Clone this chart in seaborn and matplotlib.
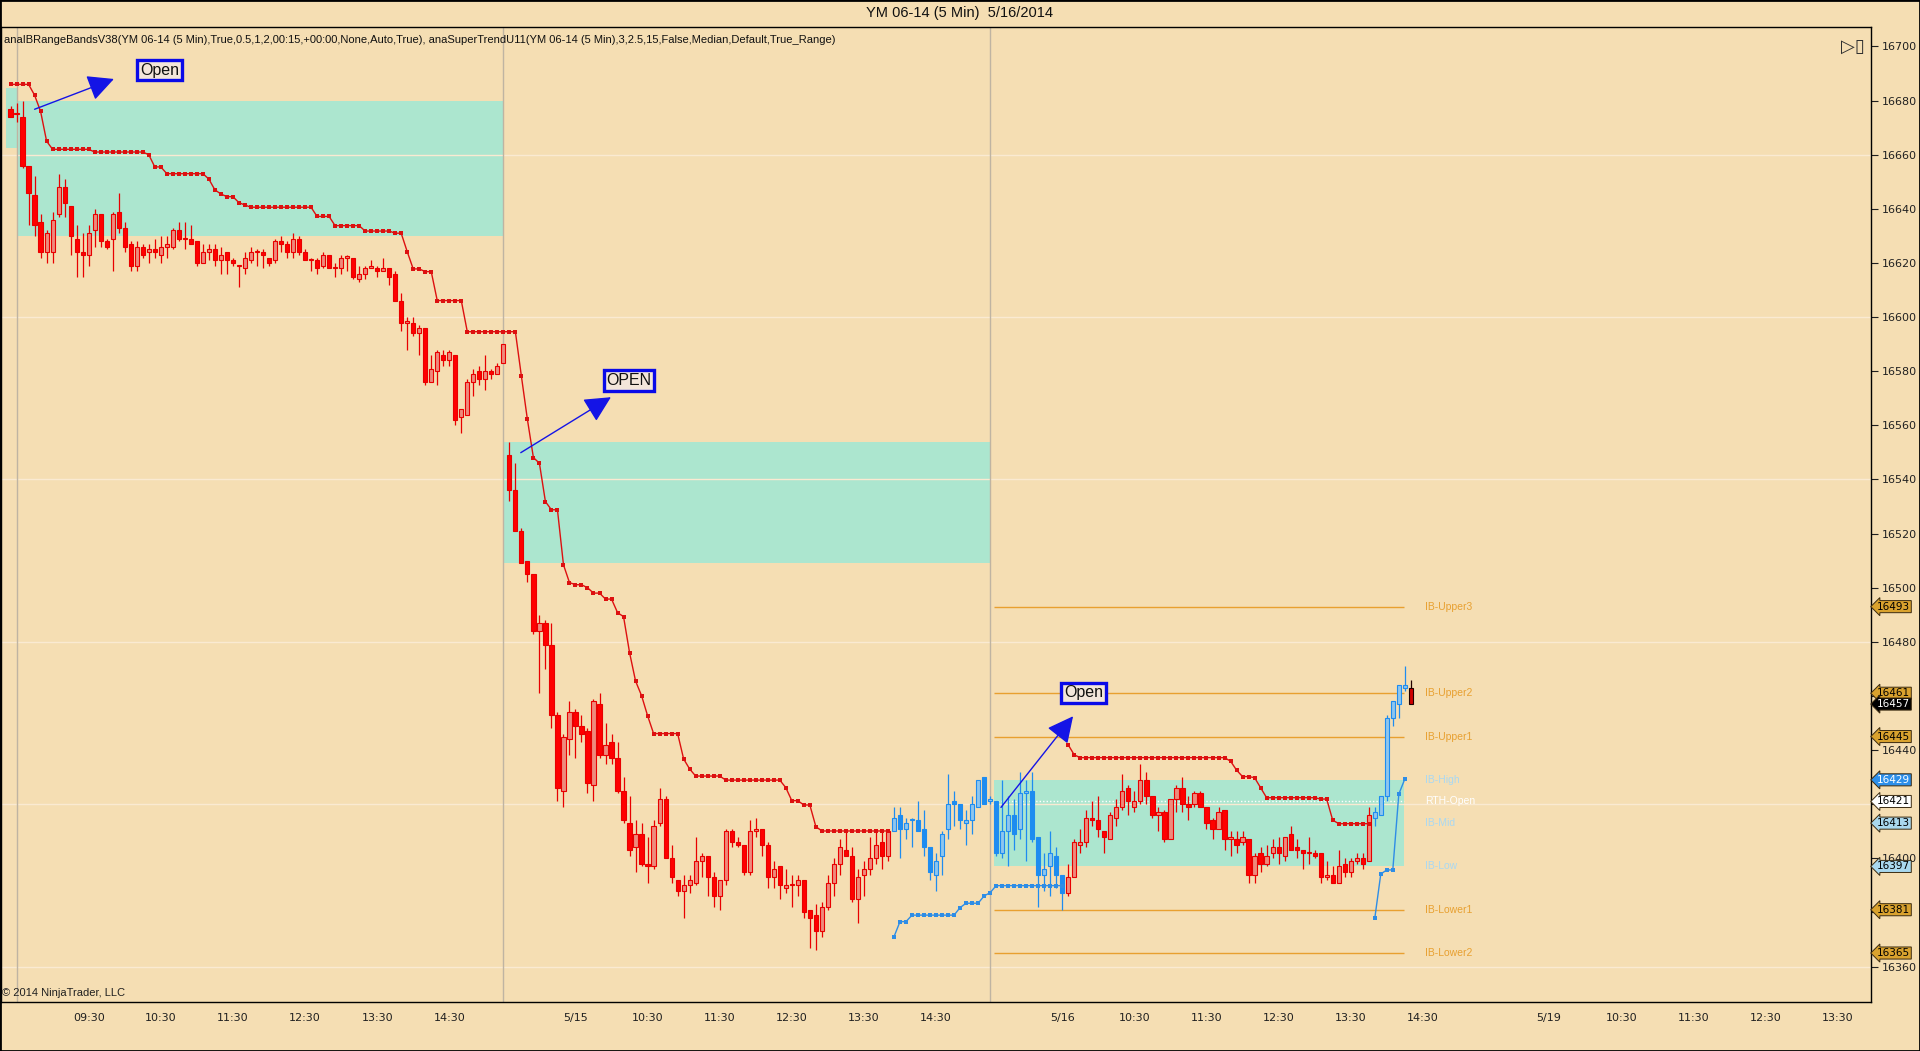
import matplotlib
matplotlib.use("Agg")
import matplotlib.pyplot as plt
import matplotlib.transforms as mtransforms
from matplotlib.patches import Rectangle
import pandas as pd
import seaborn as sns

# YM 06-14, 5 min bars (bar 0 = first bar on screen)
opens = [16677, 16675, 16674, 16656, 16645, 16635, 16624, 16624, 16638, 16648,
         16641, 16629, 16624, 16623, 16632, 16638, 16628, 16629, 16639, 16633,
         16627, 16619, 16626, 16624, 16625, 16623, 16626, 16626, 16632, 16629,
         16629, 16628, 16620, 16624, 16625, 16621, 16624, 16621, 16619, 16618,
         16621, 16624, 16624, 16622, 16621, 16628, 16627, 16624, 16629, 16624,
         16621, 16621, 16619, 16623, 16618, 16618, 16622, 16622, 16614, 16616,
         16618, 16618, 16617, 16618, 16616, 16606, 16598, 16598, 16594, 16596,
         16576, 16580, 16586, 16584, 16586, 16563, 16564, 16576, 16580, 16577,
         16580, 16579, 16583, 16549, 16536, 16521, 16510, 16505, 16484, 16487,
         16479, 16453, 16425, 16444, 16454, 16449, 16447, 16427, 16457, 16438,
         16443, 16437, 16425, 16413, 16404, 16409, 16398, 16397, 16413, 16422,
         16400, 16392, 16388, 16390, 16391, 16399, 16401, 16393, 16386, 16392,
         16410, 16406, 16405, 16395, 16410, 16411, 16405, 16393, 16397, 16389,
         16390, 16390, 16392, 16381, 16379, 16373, 16382, 16391, 16398, 16403,
         16401, 16385, 16394, 16396, 16400, 16406, 16401, 16410, 16416, 16411,
         16414, 16414, 16411, 16404, 16394, 16401, 16411, 16421, 16420, 16413,
         16414, 16419, 16430, 16421, 16421, 16402, 16410, 16416, 16411, 16424,
         16425, 16408, 16394, 16397, 16401, 16394, 16387, 16393, 16405, 16406,
         16415, 16414, 16410, 16407, 16415, 16419, 16426, 16419, 16421, 16429,
         16423, 16416, 16417, 16407, 16422, 16426, 16420, 16420, 16424, 16419,
         16414, 16411, 16418, 16407, 16407, 16406, 16407, 16394, 16402, 16398,
         16402, 16404, 16401, 16409, 16404, 16403, 16402, 16402, 16402, 16393,
         16394, 16391, 16398, 16395, 16399, 16400, 16399, 16415, 16416, 16423,
         16452, 16457, 16463, 16463]
highs = [16678, 16679, 16680, 16656, 16652, 16638, 16632, 16639, 16653, 16651,
         16641, 16634, 16631, 16634, 16640, 16638, 16629, 16639, 16646, 16635,
         16628, 16628, 16627, 16627, 16629, 16630, 16630, 16633, 16635, 16635,
         16634, 16628, 16627, 16627, 16627, 16626, 16624, 16622, 16619, 16624,
         16626, 16625, 16625, 16622, 16629, 16630, 16628, 16631, 16630, 16625,
         16622, 16622, 16624, 16623, 16620, 16623, 16623, 16622, 16619, 16619,
         16621, 16619, 16622, 16618, 16617, 16609, 16600, 16600, 16597, 16596,
         16586, 16588, 16588, 16588, 16586, 16566, 16577, 16581, 16582, 16586,
         16581, 16583, 16590, 16554, 16546, 16522, 16510, 16505, 16490, 16488,
         16487, 16454, 16446, 16458, 16455, 16453, 16448, 16459, 16461, 16450,
         16446, 16443, 16430, 16423, 16414, 16413, 16408, 16414, 16426, 16423,
         16405, 16392, 16394, 16394, 16408, 16402, 16401, 16395, 16392, 16411,
         16411, 16408, 16405, 16414, 16415, 16411, 16406, 16399, 16397, 16396,
         16394, 16394, 16392, 16381, 16383, 16384, 16394, 16400, 16407, 16411,
         16404, 16396, 16399, 16408, 16410, 16410, 16410, 16419, 16419, 16415,
         16415, 16421, 16418, 16404, 16402, 16410, 16431, 16425, 16420, 16418,
         16423, 16429, 16430, 16423, 16421, 16429, 16423, 16422, 16432, 16429,
         16432, 16408, 16402, 16410, 16404, 16394, 16398, 16407, 16411, 16418,
         16421, 16423, 16410, 16417, 16422, 16431, 16427, 16425, 16435, 16432,
         16423, 16419, 16418, 16422, 16427, 16430, 16423, 16425, 16425, 16419,
         16415, 16419, 16418, 16410, 16410, 16410, 16407, 16402, 16404, 16405,
         16407, 16408, 16408, 16412, 16407, 16403, 16408, 16403, 16402, 16399,
         16397, 16403, 16400, 16400, 16402, 16402, 16419, 16419, 16423, 16453,
         16458, 16464, 16471, 16466]
lows = [16674, 16672, 16655, 16634, 16630, 16622, 16620, 16620, 16637, 16637,
        16623, 16615, 16615, 16619, 16626, 16626, 16625, 16617, 16631, 16624,
        16617, 16617, 16622, 16620, 16622, 16620, 16622, 16625, 16628, 16625,
        16627, 16619, 16620, 16621, 16619, 16616, 16616, 16619, 16611, 16616,
        16620, 16619, 16618, 16619, 16620, 16624, 16622, 16622, 16623, 16621,
        16617, 16616, 16618, 16618, 16615, 16616, 16617, 16614, 16613, 16614,
        16618, 16615, 16617, 16612, 16606, 16595, 16588, 16593, 16586, 16575,
        16576, 16575, 16582, 16582, 16560, 16557, 16564, 16571, 16575, 16573,
        16577, 16579, 16583, 16532, 16521, 16509, 16502, 16483, 16461, 16470,
        16448, 16421, 16419, 16438, 16437, 16443, 16424, 16421, 16437, 16435,
        16435, 16424, 16413, 16401, 16395, 16397, 16391, 16396, 16412, 16400,
        16391, 16386, 16378, 16387, 16390, 16393, 16386, 16382, 16381, 16390,
        16404, 16404, 16394, 16394, 16408, 16401, 16389, 16389, 16385, 16387,
        16382, 16386, 16378, 16367, 16366, 16371, 16381, 16386, 16394, 16401,
        16384, 16376, 16386, 16394, 16398, 16396, 16399, 16410, 16400, 16407,
        16404, 16410, 16401, 16392, 16388, 16394, 16407, 16412, 16411, 16405,
        16409, 16419, 16420, 16420, 16401, 16400, 16397, 16403, 16407, 16399,
        16406, 16382, 16388, 16386, 16389, 16381, 16386, 16393, 16402, 16404,
        16412, 16408, 16402, 16407, 16412, 16418, 16416, 16417, 16420, 16420,
        16415, 16410, 16406, 16407, 16417, 16417, 16414, 16419, 16419, 16411,
        16407, 16411, 16403, 16401, 16402, 16405, 16391, 16391, 16395, 16397,
        16400, 16398, 16399, 16403, 16400, 16396, 16398, 16400, 16391, 16392,
        16391, 16391, 16393, 16393, 16398, 16396, 16399, 16412, 16416, 16421,
        16449, 16452, 16462, 16457]
closes = [16674, 16675, 16656, 16646, 16634, 16624, 16631, 16636, 16648, 16642,
          16630, 16624, 16623, 16631, 16638, 16628, 16626, 16638, 16633, 16626,
          16619, 16626, 16623, 16625, 16624, 16626, 16627, 16632, 16629, 16629,
          16627, 16620, 16624, 16625, 16621, 16623, 16621, 16620, 16619, 16622,
          16624, 16624, 16623, 16620, 16628, 16627, 16624, 16629, 16624, 16621,
          16621, 16618, 16623, 16618, 16618, 16622, 16622, 16615, 16616, 16618,
          16619, 16617, 16618, 16615, 16606, 16598, 16598, 16594, 16596, 16576,
          16581, 16587, 16584, 16587, 16562, 16566, 16576, 16579, 16577, 16580,
          16579, 16582, 16590, 16536, 16521, 16509, 16505, 16484, 16487, 16479,
          16453, 16426, 16445, 16454, 16449, 16446, 16428, 16458, 16438, 16442,
          16437, 16425, 16414, 16403, 16409, 16398, 16397, 16412, 16422, 16400,
          16393, 16388, 16390, 16392, 16399, 16401, 16393, 16386, 16392, 16410,
          16406, 16405, 16395, 16410, 16411, 16405, 16393, 16396, 16390, 16390,
          16390, 16392, 16380, 16378, 16373, 16382, 16391, 16398, 16404, 16401,
          16385, 16393, 16396, 16400, 16405, 16401, 16410, 16415, 16411, 16413,
          16414, 16410, 16404, 16395, 16399, 16409, 16420, 16420, 16414, 16414,
          16420, 16429, 16420, 16422, 16402, 16410, 16416, 16409, 16424, 16425,
          16407, 16394, 16396, 16402, 16394, 16387, 16393, 16406, 16406, 16415,
          16414, 16411, 16408, 16416, 16419, 16425, 16421, 16421, 16429, 16423,
          16416, 16417, 16407, 16422, 16426, 16420, 16419, 16424, 16419, 16413,
          16411, 16417, 16407, 16408, 16405, 16408, 16394, 16401, 16398, 16401,
          16404, 16402, 16408, 16403, 16403, 16402, 16402, 16401, 16393, 16394,
          16391, 16397, 16395, 16399, 16400, 16398, 16416, 16417, 16423, 16452,
          16458, 16464, 16464, 16457]

# bars painted in the up-trend (blue) colour
blue_runs = [(147, 175), (227, 233)]

# supertrend steps (first bar, last bar, level)
st_red_1 = [(0, 3, 16686), (4, 4, 16682), (5, 5, 16676), (6, 6, 16665), (7, 13, 16662),
            (14, 22, 16661), (23, 23, 16660), (24, 25, 16655.5), (26, 32, 16653),
            (33, 33, 16651), (34, 34, 16647), (35, 35, 16645.5), (36, 37, 16644.5),
            (38, 38, 16642.3), (39, 39, 16641.4), (40, 50, 16640.6), (51, 53, 16637.2),
            (54, 58, 16633.8), (59, 63, 16631.8), (64, 65, 16631), (66, 66, 16624.2),
            (67, 68, 16617.8), (69, 70, 16616.8), (71, 75, 16606.1), (76, 84, 16594.6),
            (85, 85, 16578.2), (86, 86, 16562.2), (87, 87, 16548.1), (88, 88, 16546),
            (89, 89, 16531.8), (90, 91, 16528.8), (92, 92, 16508.5), (93, 93, 16501.9),
            (94, 95, 16501.1), (96, 96, 16500), (97, 98, 16498), (99, 100, 16495.8),
            (101, 101, 16490.8), (102, 102, 16489.3), (103, 103, 16476), (104, 104, 16465.5),
            (105, 105, 16460.1), (106, 106, 16452.7), (107, 111, 16446.1), (112, 112, 16436.7),
            (113, 113, 16433), (114, 118, 16430.4), (119, 128, 16428.9), (129, 129, 16426.1),
            (130, 131, 16421.3), (132, 133, 16419.7), (134, 134, 16411.7), (135, 146, 16410.1)]
st_blue_1 = [(147, 147, 16371), (148, 149, 16376.6), (150, 157, 16379), (158, 158, 16381.8),
             (159, 161, 16383.4), (162, 162, 16386.1), (163, 163, 16387.3), (164, 175, 16389.9)]
st_red_2 = [(176, 176, 16441.9), (177, 177, 16438.2), (178, 202, 16437.2), (203, 203, 16435.9),
            (204, 204, 16432.6), (205, 206, 16430.2), (207, 207, 16429.8), (208, 208, 16426.1),
            (209, 217, 16422.4), (218, 219, 16421.9), (220, 220, 16414.1), (221, 226, 16412.8)]
st_blue_2 = [(227, 227, 16377.8), (228, 228, 16394.2), (229, 230, 16395.7),
             (231, 231, 16423.7), (232, 232, 16429.3)]

# initial balance boxes (from bar, to bar, low, high)
ib_boxes = [(-0.8, 1, 16662.5, 16684.5), (1, 82, 16630, 16680),
            (82, 163, 16509, 16554), (163.7, 231.9, 16397, 16429)]

ib_names = ["IB-Upper3", "IB-Upper2", "IB-Upper1", "IB-High", "RTH-Open",
            "IB-Mid", "IB-Low", "IB-Lower1", "IB-Lower2"]
ib_levels = [16493, 16461, 16445, 16429, 16421, 16413, 16397, 16381, 16365]

session_breaks = [1, 82, 163]
grid_levels = [16360, 16420, 16480, 16540, 16600, 16660]

tick_bars = [13, 25, 37, 49, 61, 73, 94, 106, 118, 130, 142, 154,
             175, 187, 199, 211, 223, 235, 256, 268, 280, 292, 304]
tick_labels = ["09:30", "10:30", "11:30", "12:30", "13:30", "14:30",
               "5/15", "10:30", "11:30", "12:30", "13:30", "14:30",
               "5/16", "10:30", "11:30", "12:30", "13:30", "14:30",
               "5/19", "10:30", "11:30", "12:30", "13:30"]

price_ticks = list(range(16360, 16701, 20))
# these axis labels sit under the price tags on the chart
covered_ticks = [16380, 16420, 16460]

tag_values = [16493, 16461, 16457, 16445, 16429, 16421, 16413, 16397, 16381, 16365]
tag_faces = ["#D9A22E", "#D9A22E", "#000000", "#D9A22E", "#2D8FEA",
             "#FFFFFF", "#A9D8EE", "#A9D8EE", "#D9A22E", "#D9A22E"]
tag_texts = ["#000000", "#000000", "#FFFFFF", "#000000", "#FFFFFF",
             "#000000", "#000000", "#000000", "#000000", "#000000"]

note_text = ["Open", "OPEN", "Open"]
note_bar = [24.8, 102.9, 178.5]
note_price = [16691.3, 16576.5, 16461.1]
arrow_from = [(4.0, 16676.8), (84.9, 16549.9), (164.8, 16418.8)]
arrow_to = [(17.2, 16688.0), (99.9, 16570.4), (176.8, 16452.5)]

BG = "#F5DEB3"
BOX = "#ACE6CF"
ORANGE = "#E8A030"

sns.set_style("white")
plt.rcParams["font.family"] = ["DejaVu Sans"]

fig = plt.figure(figsize=(19.2, 10.51), dpi=100, facecolor=BG)
ax = fig.add_axes([0.0003, 49 / 1051, 1870 / 1920, 975 / 1051], facecolor=BG)

n = len(opens)
bars = pd.DataFrame({"bar": range(n), "open": opens, "high": highs,
                     "low": lows, "close": closes})
bars["blue"] = False
for a, b in blue_runs:
    bars.loc[a:b, "blue"] = True
bars["up"] = bars["close"] >= bars["open"]

# session boxes, grid, separators
for x0, x1, lo, hi in ib_boxes:
    ax.fill_between([x0, x1], lo, hi, color=BOX, lw=0, zorder=1)
for g in grid_levels:
    ax.axhline(g, color="#FAEAD2", lw=1, zorder=1.5)
for s in session_breaks:
    ax.axvline(s, color="#BFB4A2", lw=1, zorder=1.6)

# IB lines for the current session
for name, lvl in zip(ib_names, ib_levels):
    if name.startswith("IB-Upper") or name.startswith("IB-Lower"):
        ax.hlines(lvl, 163.7, 231.9, color=ORANGE, lw=1, zorder=1.8)
        col = ORANGE
    elif name == "RTH-Open":
        ax.hlines(lvl, 163.7, 231.9, color="white", lw=1, ls=(0, (1, 1.5)), zorder=1.8)
        col = "white"
    else:
        col = "#A9D8F2"
    ax.text(235.3, lvl, name, color=col, fontsize=7.5, va="center", ha="left",
            family="Liberation Sans", zorder=6)

# candles
fills, edges = [], []
for _, r in bars.iterrows():
    if r["blue"]:
        edges.append("#1E8CF0")
        fills.append("#8EC6EE" if r["up"] else "#1E8CF0")
    else:
        edges.append("#E80000")
        fills.append("#EE8A7C" if r["up"] else "#FF0000")
fills[-1] = "#D00000"
edges[-1] = "#200000"
body_lo = bars[["open", "close"]].min(axis=1)
body_h = (bars["close"] - bars["open"]).abs().clip(lower=0.4)
ax.vlines(bars["bar"], bars["low"], bars["high"], colors=edges, lw=0.9, zorder=2.9)
ax.bar(bars["bar"], body_h, bottom=body_lo, width=0.7, color=fills,
       edgecolor=edges, linewidth=0.8, zorder=3)


def expand(steps):
    xs, ys = [], []
    for a, b, v in steps:
        for i in range(a, b + 1):
            xs.append(i)
            ys.append(v)
    return pd.DataFrame({"bar": xs, "level": ys})


for steps, col in [(st_red_1, "#DD1010"), (st_red_2, "#DD1010"),
                   (st_blue_1, "#2E8DE6"), (st_blue_2, "#2E8DE6")]:
    sns.lineplot(data=expand(steps), x="bar", y="level", color=col, marker="s",
                 markersize=2.8, markeredgewidth=0, linewidth=1, ax=ax,
                 legend=False, zorder=4)

# "Open" notes with arrows
for txt, bx, py, a0, a1 in zip(note_text, note_bar, note_price, arrow_from, arrow_to):
    ax.annotate("", xy=a1, xytext=a0, zorder=5,
                arrowprops=dict(arrowstyle="-|>,head_length=0.9,head_width=0.45",
                                color="#1414E6", lw=1, mutation_scale=18,
                                shrinkA=0, shrinkB=0))
    ax.text(bx, py, txt, ha="center", va="center", fontsize=11.5,
            family="Liberation Sans", color="#101010", zorder=6,
            bbox=dict(boxstyle="square,pad=0.18", fc="#F3E6DA", ec="#0A0AE8", lw=2.4))

ax.set_xlim(-1.66, 309.5)
ax.set_ylim(16346.9, 16707.2)
ax.set_xlabel("")
ax.set_ylabel("")

ax.yaxis.tick_right()
ax.set_yticks(price_ticks)
ax.set_yticklabels(["" if t in covered_ticks else str(t) for t in price_ticks])
ax.tick_params(axis="y", direction="out", length=5, width=0.8, labelsize=8,
               pad=3, colors="#202020")
ax.set_xticks(tick_bars)
ax.set_xticklabels(tick_labels)
ax.tick_params(axis="x", direction="out", length=5, width=0.8, labelsize=8,
               pad=3, colors="#202020")
for sp in ax.spines.values():
    sp.set_color("black")
    sp.set_linewidth(1)
    sp.set_visible(True)

# right-edge price tags
trans = mtransforms.blended_transform_factory(ax.transAxes, ax.transData)
for v, fc, tc in zip(tag_values, tag_faces, tag_texts):
    ax.text(1.0035, v, str(v), transform=trans, ha="left", va="center",
            fontsize=7.5, color=tc, clip_on=False, zorder=10,
            bbox=dict(boxstyle="larrow,pad=0.1", fc=fc, ec="#3A2A10", lw=0.7))

ax.text(0.0016, 1 - 13 / 975, "anaIBRangeBandsV38(YM 06-14 (5 Min),True,0.5,1,2,00:15,+00:00,"
        "None,Auto,True), anaSuperTrendU11(YM 06-14 (5 Min),3,2.5,15,False,Median,Default,True_Range)",
        transform=ax.transAxes, fontsize=8, va="center", ha="left",
        family="Liberation Sans", color="#101010", zorder=7)
ax.text(0.9905, 1 - 20 / 975, "\u25b7\u25af", transform=ax.transAxes, fontsize=13,
        ha="center", va="center", color="#303030", zorder=7)
ax.text(0.001, 0.004, "\u00a9 2014 NinjaTrader, LLC", transform=ax.transAxes,
        fontsize=8, va="bottom", ha="left", family="Liberation Sans",
        color="#202020", zorder=7)

fig.text(0.5, 1 - 13 / 1051, "YM 06-14 (5 Min)  5/16/2014", ha="center", va="center",
         fontsize=10.5, family="Liberation Sans", color="#101010")
fig.patches.append(Rectangle((0, 0), 1, 1, transform=fig.transFigure, fill=False,
                             ec="black", lw=2))

fig.savefig("out.png", dpi=100, facecolor=BG)
